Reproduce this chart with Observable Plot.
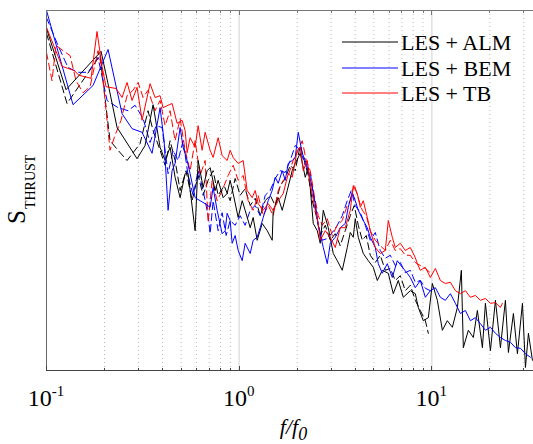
<!DOCTYPE html>
<html><head><meta charset="utf-8">
<script src="https://cdn.jsdelivr.net/npm/d3@7"></script>
<script src="https://cdn.jsdelivr.net/npm/@observablehq/plot@0.6"></script>
<style>
body{margin:0;background:#fff;}
#wrap{position:relative;width:533px;height:444px;}
#wrap svg text{font-family:"Liberation Serif","DejaVu Serif",serif;}
</style></head><body><div id="wrap"></div>
<script>
// Spectra of rotor thrust, S_THRUST in dB (arbitrary reference) vs f/f0
const models = ["LES + ALM", "LES + BEM", "LES + TB"];
const colors = ["#000000", "#0000ff", "#ff0000"];
const xTicksMajor = [0.1, 1, 10];
const xTickExponents = ["-1", "0", "1"];
const xTicksMinor = [0.2,0.3,0.4,0.5,0.6,0.7,0.8,0.9,2,3,4,5,6,7,8,9,20,30];

const almSolid = [[0.1,-3.0],[0.1263,-13.2],[0.1919,-6.8],[0.2112,-13.0],[0.2324,-19.5],[0.2952,-24.7],[0.3248,-22.5],[0.3574,-15.7],[0.3886,-22.8],[0.4126,-25.0],[0.4380,-22.8],[0.4650,-27.8],[0.4937,-31.2],[0.5241,-27.2],[0.5433,-27.2],[0.5907,-36.7],[0.6123,-25.0],[0.6500,-29.5],[0.6819,-26.7],[0.7068,-26.2],[0.7504,-30.0],[0.7778,-28.3],[0.8257,-31.2],[0.8662,-30.5],[0.8978,-28.3],[0.9306,-30.5],[0.9880,-34.5],[1.037,-31.7],[1.074,-33.3],[1.141,-36.2],[1.182,-34.5],[1.240,-38.3],[1.317,-35.5],[1.398,-36.7],[1.484,-38.3],[1.502,-33.3],[1.595,-31.2],[1.673,-33.3],[1.776,-30.0],[1.885,-26.7],[1.954,-25.5],[2.075,-23.8],[2.203,-27.8],[2.283,-26.2],[2.338,-29.5],[2.424,-35.5],[2.543,-36.7],[2.635,-38.8],[2.732,-33.3],[2.900,-36.2],[3.079,-40.5],[3.230,-41.7],[3.428,-43.3],[3.640,-39.5],[3.772,-37.0],[3.910,-37.8],[4.005,-34.7],[4.151,-37.8],[4.407,-40.5],[4.678,-41.7],[4.966,-42.8],[5.210,-45.0],[5.531,-43.3],[5.942,-43.8],[6.308,-47.2],[6.697,-45.0],[7.110,-47.8],[7.731,-46.7],[8.207,-47.2],[8.506,-49.5],[9.028,-51.7],[9.590,-51.2],[10.06,-45.5],[10.68,-48.3],[11.34,-53.3],[12.03,-51.7],[12.78,-52.8],[13.57,-49.5],[14.23,-43.3],[14.57,-56.2],[15.47,-53.3],[16.42,-54.5],[17.23,-50.0],[18.30,-56.2],[18.97,-48.8],[20.14,-56.7],[21.38,-48.3],[22.70,-56.2],[24.09,-48.3],[24.97,-57.0],[26.51,-50.5],[27.81,-57.2],[29.53,-48.8],[30.61,-59.5],[31.72,-53.8],[33.27,-58.3]];

const bemSolid = [[0.1,0.0],[0.1373,-15.7],[0.1744,-12.5],[0.2087,-6.5],[0.2467,-17.2],[0.2781,-19.7],[0.3133,-20.3],[0.3531,-23.8],[0.3886,-16.2],[0.4077,-21.7],[0.4276,-33.3],[0.4486,-26.7],[0.4650,-25.5],[0.4937,-19.5],[0.5117,-22.8],[0.5368,-25.0],[0.5564,-27.2],[0.5907,-31.2],[0.6271,-31.7],[0.6658,-32.2],[0.7068,-32.8],[0.7326,-29.5],[0.7685,-33.3],[0.8159,-37.2],[0.8457,-36.7],[0.8662,-33.8],[0.8978,-35.0],[0.9195,-38.8],[0.9532,-37.5],[0.9880,-40.0],[1.037,-41.7],[1.074,-38.8],[1.141,-40.5],[1.182,-38.3],[1.240,-37.8],[1.286,-36.2],[1.333,-34.5],[1.415,-31.7],[1.484,-30.0],[1.538,-27.8],[1.595,-28.8],[1.673,-26.7],[1.734,-28.3],[1.797,-25.5],[1.885,-25.0],[1.954,-24.5],[2.026,-20.3],[2.125,-23.8],[2.203,-25.0],[2.283,-26.7],[2.395,-29.5],[2.482,-32.2],[2.573,-35.8],[2.732,-39.5],[2.866,-42.2],[2.970,-38.8],[3.153,-37.8],[3.347,-36.2],[3.553,-35.5],[3.683,-32.8],[3.864,-30.3],[4.005,-31.7],[4.151,-33.3],[4.407,-35.0],[4.623,-36.2],[4.791,-37.8],[5.087,-39.5],[5.273,-42.2],[5.531,-43.8],[5.872,-42.2],[6.233,-44.5],[6.617,-41.7],[7.026,-42.8],[7.458,-43.8],[7.731,-44.5],[8.207,-46.2],[8.713,-45.0],[9.252,-47.8],[9.822,-46.7],[10.43,-46.2],[11.07,-47.8],[11.75,-48.3],[12.48,-47.2],[13.25,-48.8],[14.06,-50.5],[14.93,-50.0],[15.85,-51.7],[16.83,-51.2],[17.87,-52.2],[18.97,-53.3],[20.14,-52.8],[21.38,-53.8],[22.70,-54.5],[24.09,-55.0],[25.58,-55.3],[27.16,-56.2],[28.83,-56.3],[30.61,-57.2],[32.49,-57.8]];

const tbSolid = [[0.1,-2.8],[0.1203,-9.3],[0.1390,-10.0],[0.1475,-10.8],[0.1703,-11.3],[0.1829,-3.5],[0.1942,-9.3],[0.2037,-12.7],[0.2296,-13.0],[0.2467,-14.5],[0.2619,-12.0],[0.2781,-15.0],[0.2952,-12.8],[0.3133,-18.3],[0.3448,-12.2],[0.3661,-14.5],[0.3886,-14.2],[0.4028,-16.2],[0.4276,-15.8],[0.4486,-15.5],[0.4763,-18.8],[0.5057,-18.3],[0.5241,-20.0],[0.5368,-23.7],[0.5564,-21.2],[0.5907,-22.8],[0.6123,-19.2],[0.6423,-23.3],[0.6658,-20.3],[0.7068,-23.3],[0.7326,-24.5],[0.7778,-21.2],[0.8159,-24.2],[0.8662,-25.0],[0.8978,-23.3],[0.9306,-24.5],[0.9880,-25.5],[1.049,-25.0],[1.100,-30.0],[1.168,-31.2],[1.211,-30.0],[1.255,-32.2],[1.333,-33.3],[1.415,-32.2],[1.502,-33.3],[1.595,-31.7],[1.693,-30.5],[1.797,-27.2],[1.885,-27.8],[2.001,-23.3],[2.075,-22.8],[2.151,-26.7],[2.256,-25.0],[2.338,-28.8],[2.482,-33.3],[2.573,-35.5],[2.635,-38.3],[2.798,-36.7],[2.970,-37.8],[3.153,-39.5],[3.347,-36.2],[3.553,-36.2],[3.772,-33.3],[3.910,-29.2],[4.102,-30.5],[4.252,-32.8],[4.407,-31.7],[4.623,-34.5],[4.791,-36.7],[5.087,-39.5],[5.400,-40.5],[5.733,-40.0],[5.942,-35.0],[6.233,-37.8],[6.461,-39.5],[6.860,-38.8],[7.282,-40.0],[7.731,-39.5],[8.207,-41.2],[8.405,-42.2],[8.713,-43.3],[9.252,-42.8],[9.822,-44.5],[10.43,-43.0],[11.07,-45.0],[11.75,-45.5],[12.48,-45.3],[13.25,-46.7],[14.06,-47.2],[14.93,-46.7],[15.85,-47.8],[16.83,-47.5],[17.87,-48.3],[18.97,-48.0],[20.14,-48.8],[21.38,-48.7],[22.70,-49.5],[23.25,-48.8]];

const almDashed = [[0.1,-3.8],[0.1278,-15.5],[0.1896,-7.5],[0.2137,-21.7],[0.2352,-23.3],[0.2619,-25.0],[0.3059,-22.2],[0.3366,-16.7],[0.3574,-20.0],[0.3886,-23.3],[0.4126,-25.8],[0.4380,-21.7],[0.4650,-25.0],[0.4937,-30.0],[0.5304,-26.7],[0.5699,-31.7],[0.6123,-27.5],[0.6500,-30.8],[0.6901,-28.3],[0.7326,-26.7],[0.7778,-30.8],[0.8356,-29.2],[0.8978,-31.7],[0.9532,-28.0],[1.012,-30.8],[1.074,-29.7],[1.141,-32.5],[1.211,-31.3],[1.286,-34.2],[1.365,-31.7],[1.449,-30.8],[1.538,-32.5],[1.633,-29.2],[1.734,-28.0],[1.841,-25.8],[1.954,-26.7],[2.075,-22.5],[2.177,-25.0],[2.283,-27.5],[2.395,-31.7],[2.512,-34.2],[2.635,-37.5],[2.798,-35.8],[2.970,-38.3],[3.153,-37.2],[3.347,-39.2],[3.553,-36.7],[3.772,-34.2],[3.957,-32.5],[4.151,-35.8],[4.355,-38.3],[4.568,-37.5],[4.791,-40.8],[5.087,-42.0],[5.400,-40.8],[5.733,-43.3],[6.086,-43.0],[6.461,-45.0],[6.860,-44.2],[7.282,-46.7],[7.731,-45.8],[8.207,-48.3],[8.713,-50.0],[9.252,-51.7],[9.590,-53.8]];

const bemDashed = [[0.1,-1.2],[0.1147,-5.8],[0.1293,-9.5],[0.1457,-10.3],[0.1643,-10.3],[0.1851,-7.8],[0.2062,-15.0],[0.2352,-16.2],[0.2650,-16.7],[0.2882,-15.8],[0.3171,-18.0],[0.3448,-22.0],[0.3705,-19.2],[0.3980,-19.5],[0.4276,-27.2],[0.4540,-23.3],[0.4820,-25.0],[0.5117,-21.7],[0.5433,-27.5],[0.5767,-30.8],[0.6123,-26.7],[0.6500,-30.0],[0.6901,-34.2],[0.7068,-37.2],[0.7326,-31.7],[0.7778,-36.7],[0.8159,-33.7],[0.8559,-37.5],[0.8978,-35.0],[0.9532,-35.8],[1.012,-34.2],[1.074,-35.8],[1.141,-33.3],[1.211,-32.5],[1.286,-34.2],[1.365,-30.8],[1.449,-30.0],[1.538,-28.0],[1.633,-26.7],[1.734,-27.0],[1.841,-25.0],[1.954,-22.5],[2.075,-23.3],[2.203,-25.8],[2.338,-27.0],[2.453,-31.7],[2.573,-35.8],[2.699,-38.3],[2.866,-38.0],[3.042,-37.0],[3.230,-35.8],[3.428,-34.2],[3.640,-31.7],[3.818,-30.0],[4.005,-32.5],[4.252,-33.7],[4.513,-35.8],[4.791,-38.3],[5.087,-37.0],[5.400,-40.0],[5.733,-41.3],[6.086,-40.8],[6.461,-42.5],[6.860,-42.0],[7.282,-43.7],[7.731,-43.3],[8.207,-45.3],[8.713,-45.0],[9.252,-46.3],[9.822,-46.7]];

const tbDashed = [[0.1,-7.0],[0.1068,-11.7],[0.1120,-5.8],[0.1218,-6.7],[0.1325,-7.5],[0.1423,-11.7],[0.1548,-13.7],[0.1683,-12.7],[0.1851,-6.7],[0.1942,-9.7],[0.2037,-16.7],[0.2137,-23.3],[0.2269,-20.8],[0.2437,-18.3],[0.2619,-14.2],[0.2814,-13.3],[0.2988,-12.0],[0.3171,-14.5],[0.3366,-13.3],[0.3661,-16.7],[0.3886,-15.0],[0.4126,-19.2],[0.4380,-16.7],[0.4650,-21.7],[0.4937,-18.0],[0.5241,-23.3],[0.5564,-26.7],[0.5907,-21.7],[0.6271,-27.5],[0.6658,-25.0],[0.6901,-35.3],[0.7239,-28.3],[0.7685,-31.7],[0.8159,-30.0],[0.8766,-27.5],[0.9306,-25.8],[0.9880,-28.3],[1.049,-27.5],[1.113,-31.7],[1.182,-33.3],[1.255,-30.8],[1.333,-34.2],[1.415,-32.5],[1.502,-34.2],[1.595,-30.0],[1.693,-28.3],[1.797,-27.5],[1.908,-25.0],[2.026,-23.3],[2.125,-21.7],[2.229,-25.0],[2.338,-26.7],[2.453,-30.8],[2.573,-34.2],[2.699,-35.8],[2.866,-34.7],[3.042,-37.5],[3.230,-35.8],[3.428,-35.0],[3.640,-32.5],[3.772,-31.7],[3.957,-29.0],[4.151,-31.3],[4.355,-33.3],[4.568,-34.2],[4.791,-36.7],[5.087,-38.3],[5.400,-39.2],[5.733,-40.0],[6.086,-38.3],[6.461,-40.0],[6.860,-39.7],[7.282,-40.8],[7.731,-40.8],[8.207,-42.0],[8.713,-42.5],[9.252,-43.0],[9.822,-43.7]];

const FONT = "'Liberation Serif','DejaVu Serif',serif";
const solidSeries = [almSolid, bemSolid, tbSolid];
const dashedSeries = [almDashed, bemDashed, tbDashed];

const lineMarks = [];
dashedSeries.forEach((s, i) => lineMarks.push(Plot.line(s, {x: d => d[0], y: d => d[1], stroke: colors[i], strokeWidth: 1, strokeDasharray: "7,4", clip: true})));
solidSeries.forEach((s, i) => lineMarks.push(Plot.line(s, {x: d => d[0], y: d => d[1], stroke: colors[i], strokeWidth: 1, clip: true})));

const chart = Plot.plot({
  width: 533, height: 444,
  marginLeft: 46, marginRight: 0, marginTop: 10, marginBottom: 73,
  x: {type: "log", domain: [0.1, 33.7], axis: null},
  y: {domain: [-60.17, 0], axis: null},
  style: {background: "#fff", fontFamily: FONT, overflow: "visible"},
  marks: [
    Plot.ruleX(xTicksMinor, {stroke: "#bdbdbd", strokeDasharray: "1,3", strokeWidth: 1}),
    Plot.ruleX(xTicksMajor.slice(1), {stroke: "#e2e2e2", strokeWidth: 1.6}),
    ...lineMarks
  ]
});
document.getElementById("wrap").appendChild(chart);

// axes, ticks and labels drawn with the plot's own scales
const sx = chart.scale("x");
const xs = d3.scaleLog().domain(sx.domain).range(sx.range);
const xL = sx.range[0], xR = sx.range[1];
const sy = chart.scale("y");
const yBot = sy.range[0], yTop = sy.range[1];
const svg = d3.select(chart);
const g = svg.append("g").attr("text-anchor", "start");
const axisColor = "#444";
g.append("line").attr("x1", xL).attr("x2", xR).attr("y1", yBot - 0.5).attr("y2", yBot - 0.5).attr("stroke", axisColor);
g.append("line").attr("x1", xL).attr("x2", xR).attr("y1", yTop + 0.5).attr("y2", yTop + 0.5).attr("stroke", "#777");
g.append("line").attr("x1", xL + 0.5).attr("x2", xL + 0.5).attr("y1", yTop).attr("y2", yBot).attr("stroke", "#666");
const allTicks = xTicksMinor.map(t => [t, 3]).concat(xTicksMajor.map(t => [t, 5]));
allTicks.forEach(([t, len]) => {
  const px = Math.round(xs(t)) + 0.5;
  g.append("line").attr("x1", px).attr("x2", px).attr("y1", yBot).attr("y2", yBot - len).attr("stroke", axisColor);
  g.append("line").attr("x1", px).attr("x2", px).attr("y1", yTop).attr("y2", yTop + len).attr("stroke", "#777");
});
function txt(sel) { return sel.attr("style", "font-family:" + FONT).attr("fill", "#000"); }
xTicksMajor.forEach((t, i) => {
  const tx = txt(g.append("text")).attr("x", xs(t)).attr("y", yBot + 35).attr("text-anchor", "middle").attr("font-size", 24);
  tx.append("tspan").text("10");
  tx.append("tspan").attr("font-size", 15).attr("dy", -10).text(xTickExponents[i]);
});
// x label f/f0
const xl = txt(g.append("text")).attr("x", (xL + xR) / 2 + 4).attr("y", 434).attr("text-anchor", "middle")
  .attr("font-style", "italic").attr("font-size", 22);
xl.append("tspan").text("f/f");
xl.append("tspan").attr("font-size", 18).attr("dy", 6).text("0");
// y label S_THRUST
const yl = txt(g.append("text")).attr("transform", "translate(25,224) rotate(-90)").attr("text-anchor", "start").attr("font-size", 25);
yl.append("tspan").text("S");
yl.append("tspan").attr("font-size", 14).attr("dy", 10).attr("dx", 1).text("THRUST");
// legend
models.forEach((m, i) => {
  const ly = Math.round(42 + i * 25.5);
  g.append("line").attr("x1", 342).attr("x2", 398).attr("y1", ly).attr("y2", ly)
    .attr("style", "stroke:" + colors[i] + ";stroke-width:1");
  txt(g.append("text")).attr("x", 401).attr("y", ly + 8).attr("text-anchor", "start").attr("font-size", 22).text(m);
});
</script>
</body></html>
